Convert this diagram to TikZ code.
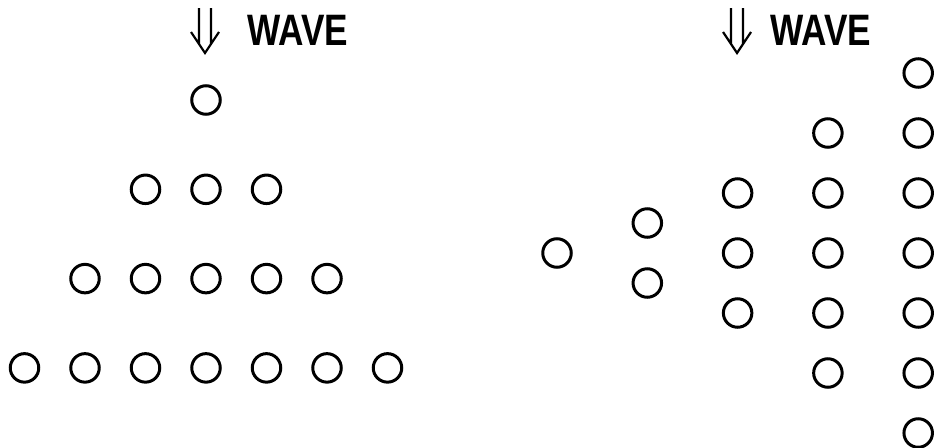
\documentclass[tikz,border=0pt]{standalone}
\usepackage{fontspec}
\newfontfamily\wavefont[FakeStretch=0.8]{Liberation Sans}
\usetikzlibrary{positioning, calc}

\begin{document}
\begin{tikzpicture}[
    x=1pt,
    y=-1pt,
    cyl/.style={
        draw,
        circle,
        line width=3pt,
        minimum size=28.5pt,
        inner sep=0pt,
    },
    wave/.style={
        font=\wavefont\bfseries\fontsize{44}{44}\selectfont,
        anchor=base west,
        inner sep=0pt,
    },
    dirarrow/.style={
        line width=2.2pt,
        line join=miter,
    },
]
    \useasboundingbox (0,0) rectangle (936,447);

    % triangular array
    \foreach \r in {0,...,3} {
        \foreach \k in {-\r,...,\r} {
            \node[cyl] (l\r\k) at ({206+60.5*\k},{100+89.3*\r}) {};
        }
    }

    % array seen from the other side
    \foreach \c/\n in {0/1, 1/2, 2/3, 3/5, 4/7} {
        \foreach \m in {1,...,\n} {
            \node[cyl] (r\c\m) at ({557+90.3*\c},{253+60*(\m-(\n+1)/2)}) {};
        }
    }

    % wave direction
    \coordinate (ltip) at (205,53);
    \coordinate (rtip) at (737,53);
    \foreach \t in {ltip, rtip} {
        \draw[dirarrow] (\t) ++(-6,-45) -- ++(0,36)
                        (\t) ++(6,-45) -- ++(0,36)
                        (\t) ++(-14,-21) -- (\t) -- ++(14,-21);
    }
    \node[wave] (lwave) at (247,45) {WAVE};
    \node[wave] (rwave) at (770,45) {WAVE};

\end{tikzpicture}
\end{document}
